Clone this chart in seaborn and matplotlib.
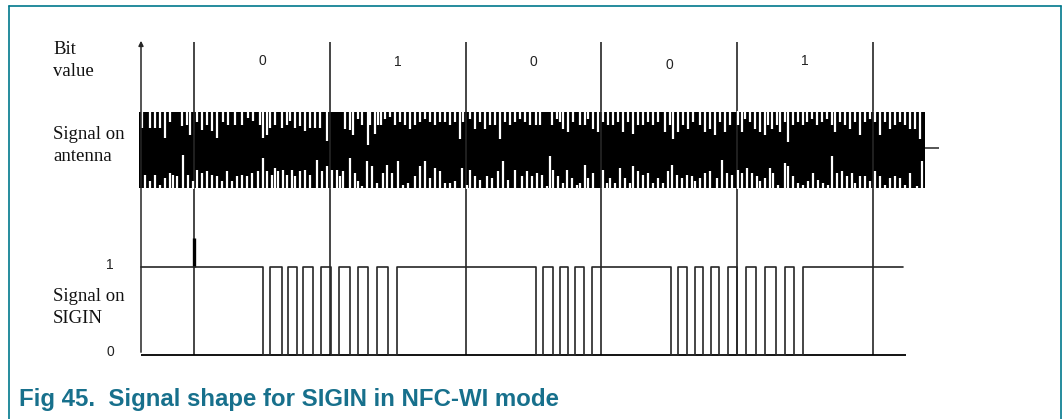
"""
Fig 45 - Signal shape for SIGIN in NFC-WI mode.
Timing diagram: bit values, antenna carrier, SIGIN pulse train.
"""

import matplotlib
matplotlib.use("Agg")
import matplotlib.pyplot as plt
import pandas as pd
import seaborn as sns

# ------------------------------------------------------------------
# Data (x in drawing units along the time axis)
# ------------------------------------------------------------------
bit_values  = ["0", "1", "0", "0", "1"]
bit_edges   = [194, 330, 466, 601, 737, 873]
bit_label_y = [61, 62, 62, 65, 61]

# SIGIN edges and the level held after each edge
sigin_t = [141, 263, 270, 282, 288, 297, 303, 313, 321, 331, 339, 350, 358, 368,
           377, 388, 397, 536, 543, 553, 560, 568, 575, 584, 592, 671, 678, 687,
           695, 703, 711, 719, 728, 737, 746, 756, 765, 776, 785, 794, 803, 903]
sigin_level = [1, 0, 1, 0, 1, 0, 1, 0, 1, 0, 1, 0, 1, 0,
               1, 0, 1, 0, 1, 0, 1, 0, 1, 0, 1, 0, 1, 0,
               1, 0, 1, 0, 1, 0, 1, 0, 1, 0, 1, 0, 1, 1]

# antenna carrier envelope: gaps cut into the top and bottom edges
ant_start, ant_end = 139, 925
top_notch_x = [142, 150, 155, 160, 165, 170, 182, 187, 190, 197, 202, 207, 212, 217,
               223, 228, 235, 242, 248, 253, 260, 263, 267, 270, 275, 282, 287, 290,
               295, 300, 305, 310, 315, 320, 327,
               345, 350, 353, 358, 362, 368, 370, 375, 378, 381, 385, 390, 395, 400,
               405, 410, 415, 420, 425, 430, 435, 440, 445, 450, 455, 460, 463, 470,
               475, 480, 485, 490, 495, 500, 505, 510, 515, 520, 525, 530,
               536, 540, 552, 557, 560, 563, 568, 573, 580, 585, 588, 593, 598, 603,
               608, 613, 618, 623, 628, 633, 638, 643, 648, 653, 658, 665, 670, 673,
               678, 683, 688, 693, 700, 705, 710, 715, 720, 725, 730,
               738, 742, 745, 750, 755, 760, 765, 768, 772, 777, 780, 785, 788, 793,
               798, 803, 807, 812, 817, 822, 827, 832, 835, 840, 845, 850, 855, 860,
               865, 870, 875, 880, 885, 890, 895, 900, 905, 910, 915, 920]
top_notch_len = [16, 16, 16, 16, 26, 10, 14, 13, 23, 10, 18, 13, 19, 26,
                 10, 13, 13, 13, 6, 9, 13, 26, 23, 16, 13, 16, 13, 9,
                 16, 14, 19, 16, 16, 16, 29,
                 17, 18, 23, 7, 13, 33, 13, 22, 13, 13, 7, 5, 13, 10,
                 13, 17, 13, 10, 7, 10, 13, 10, 10, 13, 10, 27, 10, 7,
                 17, 10, 17, 13, 13, 27, 10, 13, 10, 7, 10, 13,
                 13, 13, 13, 7, 10, 17, 20, 10, 13, 13, 7, 17, 20, 10,
                 13, 13, 10, 20, 10, 22, 13, 13, 10, 13, 10, 20, 13, 27,
                 20, 13, 17, 10, 13, 20, 17, 23, 10, 20, 13,
                 13, 20, 7, 10, 17, 20, 23, 13, 17, 13, 20, 10, 30, 13,
                 10, 13, 10, 7, 13, 10, 7, 13, 20, 10, 13, 17, 10, 23,
                 10, 7, 10, 23, 10, 17, 13, 10, 13, 17, 17, 27]
bot_notch_x = [145, 150, 155, 160, 165, 170, 173, 177, 183, 188, 193, 197, 202, 207,
               212, 217, 222, 227, 232, 237, 242, 247, 252, 258, 263, 267, 272, 275,
               278, 283, 287, 292, 295, 300, 305, 310, 317, 322, 327, 332,
               337, 340, 343, 350, 355, 358, 362, 367, 372, 377, 383, 387, 392, 398,
               403, 408, 415, 420, 425, 430, 435, 440, 445, 450, 455, 462, 467, 470,
               475, 480, 487, 492, 498, 503, 508, 515, 522, 527, 532,
               537, 542, 547, 550, 553, 558, 563, 567, 572, 577, 580, 585, 588, 593,
               603, 607, 610, 615, 620, 625, 630, 633, 638, 643, 648, 653, 658, 663,
               668, 672, 677, 682, 687, 692, 695, 700, 705, 710, 717, 722, 727, 732,
               738, 742, 747, 752, 757, 760, 765, 770, 773, 778, 785, 788, 793, 798,
               803, 808, 813, 818, 823, 828, 832, 837, 842, 847, 852, 855, 860, 865,
               870, 875, 880, 885, 890, 895, 900, 905, 910, 917, 922]
bot_notch_len = [13, 7, 13, 3, 10, 15, 13, 12, 33, 13, 7, 18, 15, 17,
                 13, 12, 7, 17, 7, 12, 13, 12, 15, 17, 30, 17, 13, 20,
                 17, 18, 13, 18, 12, 17, 18, 13, 28, 17, 22, 18,
                 18, 12, 17, 30, 15, 7, 2, 27, 22, 5, 15, 23, 15, 27,
                 3, 5, 12, 22, 27, 10, 20, 17, 5, 5, 7, 20, 3, 18,
                 12, 8, 12, 10, 17, 27, 8, 18, 12, 17, 12,
                 15, 13, 2, 32, 18, 12, 5, 18, 10, 3, 5, 23, 10, 15,
                 18, 5, 10, 5, 20, 10, 5, 22, 17, 13, 15, 5, 10, 5,
                 17, 23, 13, 10, 13, 12, 7, 10, 15, 17, 10, 28, 15, 13,
                 18, 15, 20, 15, 12, 7, 10, 20, 15, 3, 25, 22, 12, 5,
                 3, 7, 15, 8, 5, 3, 32, 15, 17, 12, 15, 5, 12, 12,
                 7, 17, 12, 3, 10, 12, 10, 3, 15, 2, 27]

caption = "Fig 45.  Signal shape for SIGIN in NFC-WI mode"

# ------------------------------------------------------------------
# Layout constants (drawing units, y grows downward)
# ------------------------------------------------------------------
Y_TOP     = 42      # top of the time axis / bit lines
Y_ANT_TOP = 112
Y_ANT_BOT = 188
Y_HIGH    = 267
Y_LOW     = 355
X_AXIS    = 141
INK       = "#262626"
TEAL      = "#00788c"
CAP_COL   = "#17708c"
SANS      = ["Liberation Sans", "DejaVu Sans"]

sns.set_theme(style="white")
plt.rcParams["font.family"] = ["Liberation Serif", "DejaVu Serif"]

fig = plt.figure(figsize=(10.64, 4.19), dpi=100)
ax = fig.add_axes([0, 0, 1, 1])

# frame
ax.plot([9, 1061], [6, 6], color=TEAL, lw=1.2)
ax.plot([9, 9], [6, 419], color=TEAL, lw=1.2)
ax.plot([1061, 1061], [6, 419], color=TEAL, lw=1.2)

# time axis with arrow
ax.annotate("", xy=(X_AXIS, Y_TOP - 4), xytext=(X_AXIS, Y_LOW),
            arrowprops=dict(arrowstyle="-|>", color=INK, lw=1.1, mutation_scale=7))

# bit cell boundaries and bit labels
ax.vlines(bit_edges, Y_TOP, Y_LOW, color=INK, lw=1.2)
ax.vlines(bit_edges[0], 238, Y_HIGH, color="black", lw=2.4)
for i, b in enumerate(bit_values):
    xc = (bit_edges[i] + bit_edges[i + 1]) / 2
    ax.text(xc, bit_label_y[i], b, ha="center", va="center", fontsize=10,
            family=SANS, color="#222222")

# antenna carrier
ax.fill_between([ant_start, ant_end], Y_ANT_TOP, Y_ANT_BOT, color="black", lw=0)
ax.vlines(top_notch_x, Y_ANT_TOP - 1, [Y_ANT_TOP + v for v in top_notch_len],
          color="white", lw=1.6)
ax.vlines(bot_notch_x, [Y_ANT_BOT - v for v in bot_notch_len], Y_ANT_BOT + 1,
          color="white", lw=1.6)
ax.hlines((Y_ANT_TOP + Y_ANT_BOT) / 2 - 2, ant_end, ant_end + 14, color=INK, lw=1.1)

# SIGIN trace
sig = pd.DataFrame({"t": sigin_t,
                    "y": [Y_LOW - lvl * (Y_LOW - Y_HIGH) for lvl in sigin_level]})
ax.hlines(Y_LOW, X_AXIS, 906, color="black", lw=1.3)
sns.lineplot(data=sig, x="t", y="y", ax=ax, drawstyle="steps-post",
             estimator=None, sort=False, color=INK, lw=1.2, legend=False)

ax.set_xlim(0, 1064)
ax.set_ylim(419, 0)
ax.axis("off")

# row labels
lab = dict(fontsize=13.5, color="#111111", va="center", ha="left")
ax.text(53, 49, "Bit", **lab)
ax.text(53, 72, "value", **lab)
ax.text(53, 134, "Signal on", **lab)
ax.text(53, 156, "antenna", **lab)
ax.text(53, 296, "Signal on", **lab)
ax.text(53, 318, "SIGIN", **lab)
ax.text(110, 265, "1", fontsize=10, ha="center", va="center", family=SANS, color="#222222")
ax.text(110, 352, "0", fontsize=10, ha="center", va="center", family=SANS, color="#222222")

# caption
ax.text(19, 399, caption, fontsize=17.3, fontweight="bold", color=CAP_COL,
        family=SANS, ha="left", va="center")

fig.savefig("out.png", dpi=100)
